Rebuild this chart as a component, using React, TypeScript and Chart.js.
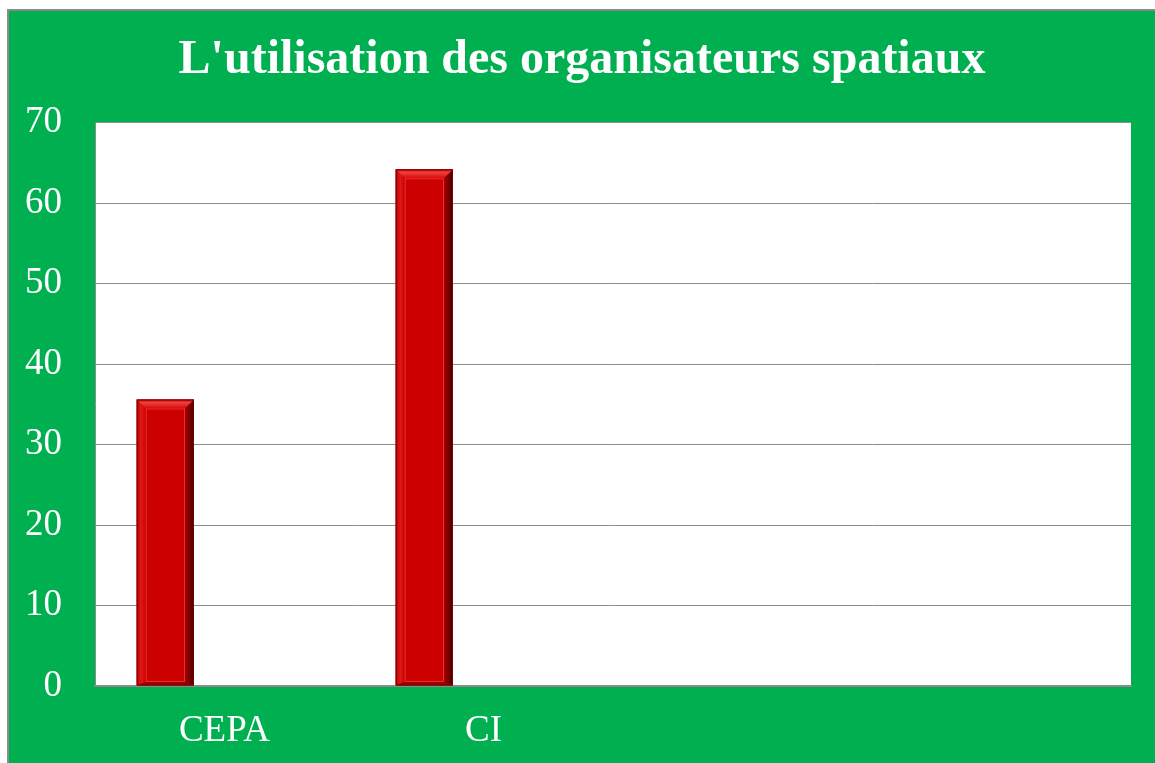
import React, { useEffect, useRef } from "react";
import { Chart, registerables } from "chart.js";

Chart.register(...registerables);

const categories = ["CEPA", "CI", "", ""];
const seriesValues = [35.6, 64.2, null, null];
const emptySeries = [null, null, null, null];
const titleText = "L'utilisation des organisateurs spatiaux";
const yMin = 0;
const yMax = 70;
const yStep = 10;

const FONT = "'Liberation Serif', 'Times New Roman', serif";

const bevelPlugin = {
  id: "bevel",
  afterDatasetsDraw(chart: any) {
    const ctx = chart.ctx;
    const meta = chart.getDatasetMeta(0);
    meta.data.forEach((bar: any, i: number) => {
      if (seriesValues[i] == null) return;
      const { x, y, base, width } = bar.getProps(["x", "y", "base", "width"], true);
      const l = x - width / 2;
      const r = x + width / 2;
      const t = y;
      const b = base;
      const bw = Math.min(9, width / 5);
      ctx.save();
      let g = ctx.createLinearGradient(l, 0, l + bw, 0);
      g.addColorStop(0, "#b80000");
      g.addColorStop(0.5, "#e01818");
      g.addColorStop(1, "#c80000");
      ctx.fillStyle = g;
      ctx.beginPath();
      ctx.moveTo(l, t);
      ctx.lineTo(l + bw, t + bw);
      ctx.lineTo(l + bw, b - bw * 0.4);
      ctx.lineTo(l, b);
      ctx.closePath();
      ctx.fill();
      g = ctx.createLinearGradient(r - bw, 0, r, 0);
      g.addColorStop(0, "#a80000");
      g.addColorStop(0.6, "#700000");
      g.addColorStop(1, "#3a0000");
      ctx.fillStyle = g;
      ctx.beginPath();
      ctx.moveTo(r, t);
      ctx.lineTo(r - bw, t + bw);
      ctx.lineTo(r - bw, b - bw * 0.4);
      ctx.lineTo(r, b);
      ctx.closePath();
      ctx.fill();
      g = ctx.createLinearGradient(0, t, 0, t + bw);
      g.addColorStop(0, "#c00000");
      g.addColorStop(0.35, "#f04040");
      g.addColorStop(1, "#d80808");
      ctx.fillStyle = g;
      ctx.beginPath();
      ctx.moveTo(l, t);
      ctx.lineTo(r, t);
      ctx.lineTo(r - bw, t + bw);
      ctx.lineTo(l + bw, t + bw);
      ctx.closePath();
      ctx.fill();
      ctx.fillStyle = "#9a0000";
      ctx.beginPath();
      ctx.moveTo(l, b);
      ctx.lineTo(r, b);
      ctx.lineTo(r - bw, b - bw * 0.4);
      ctx.lineTo(l + bw, b - bw * 0.4);
      ctx.closePath();
      ctx.fill();
      ctx.strokeStyle = "rgba(240,60,60,0.8)";
      ctx.lineWidth = 1;
      ctx.strokeRect(l + bw + 0.5, t + bw + 0.5, width - 2 * bw - 1, b - t - bw * 1.4 - 1);
      ctx.strokeStyle = "#7a0000";
      ctx.strokeRect(l + 0.5, t + 0.5, width - 1, b - t - 1);
      ctx.restore();
    });
  },
};

export default function App() {
  const ref = useRef<HTMLCanvasElement | null>(null);
  useEffect(() => {
    if (!ref.current) return;
    const chart = new Chart(ref.current, {
      type: "bar",
      data: {
        labels: categories,
        datasets: [
          {
            data: seriesValues as any,
            backgroundColor: "#cc0000",
            borderWidth: 0,
            categoryPercentage: 0.914,
            barPercentage: 0.484,
          },
          {
            data: emptySeries as any,
            backgroundColor: "#4f81bd",
            borderWidth: 0,
            categoryPercentage: 0.914,
            barPercentage: 0.484,
          },
        ],
      },
      options: {
        animation: false,
        responsive: false,
        layout: { padding: 0 },
        plugins: {
          legend: { display: false },
          tooltip: { enabled: false },
          title: {
            display: true,
            text: titleText,
            color: "#ffffff",
            font: { family: FONT, size: 48, weight: "bold" },
            padding: { top: 21, bottom: 33 },
          },
        },
        scales: {
          x: {
            grid: { display: false, drawTicks: false },
            border: { display: true, color: "#8c8c8c", width: 2 },
            ticks: {
              color: "#ffffff",
              font: { family: FONT, size: 37 },
              padding: 23,
              maxRotation: 0,
              autoSkip: false,
            },
            afterFit(scale: any) {
              scale.height = 77;
            },
          },
          y: {
            min: yMin,
            max: yMax,
            grid: { color: "#8c8c8c", lineWidth: 1, drawTicks: false },
            border: { display: true, color: "#8c8c8c", width: 1 },
            ticks: {
              stepSize: yStep,
              color: "#ffffff",
              font: { family: FONT, size: 37 },
              padding: 33,
            },
            afterFit(scale: any) {
              scale.width = 86;
            },
          },
          yRight: {
            position: "right",
            min: yMin,
            max: yMax,
            grid: { display: false, drawTicks: false },
            border: { display: false },
            ticks: { display: false },
            afterFit(scale: any) {
              scale.width = 24;
            },
          },
        },
      },
      plugins: [
        {
          id: "plotBg",
          beforeDraw(c: any) {
            const { ctx, chartArea } = c;
            ctx.save();
            ctx.fillStyle = "#ffffff";
            ctx.fillRect(chartArea.left, chartArea.top, chartArea.right - chartArea.left, chartArea.bottom - chartArea.top);
            ctx.restore();
          },
        },
        bevelPlugin,
      ],
    });
    return () => chart.destroy();
  }, []);
  return (
    <div
      style={{
        position: "absolute",
        left: 7,
        top: 9,
        width: 1148,
        height: 754,
        boxSizing: "border-box",
        background: "#00b050",
        borderLeft: "2px solid #8a8a8a",
        borderTop: "2px solid #8a8a8a",
      }}
    >
      <canvas ref={ref} width={1146} height={752} style={{ display: "block" }} />
    </div>
  );
}
